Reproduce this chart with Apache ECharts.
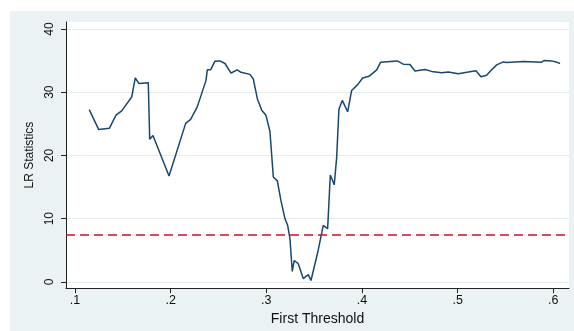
<!DOCTYPE html>
<html><head><meta charset="utf-8">
<script src="https://cdn.jsdelivr.net/npm/echarts@6/dist/echarts.min.js"></script>
<style>
html,body{margin:0;padding:0;background:#ffffff;}
#wrap{position:relative;width:574px;height:331px;overflow:hidden;}
#bg{position:absolute;left:10px;top:11px;width:564px;height:320px;background:#eaf2f3;}
#c{position:absolute;left:0;top:0;width:574px;height:331px;}
</style>
</head><body>
<div id="wrap"><div id="bg"></div><div id="c"></div></div>
<script>
const thresholds = [0.1149,0.1248,0.1359,0.1429,0.1488,0.1593,0.1630,0.1669,0.1766,0.1781,0.1815,0.1983,0.2157,0.2209,0.2278,0.2369,0.2383,0.2418,0.2463,0.2516,0.2568,0.2631,0.2696,0.2735,0.2829,0.2864,0.2906,0.2952,0.2996,0.3038,0.3073,0.3115,0.3153,0.3195,0.3223,0.3247,0.3271,0.3292,0.3334,0.3386,0.3439,0.3467,0.3543,0.3595,0.3641,0.3669,0.3710,0.3735,0.3759,0.3794,0.3850,0.3892,0.3955,0.4007,0.4073,0.4154,0.4195,0.4369,0.4432,0.4502,0.4554,0.4659,0.4728,0.4833,0.4902,0.5007,0.5111,0.5191,0.5244,0.5303,0.5345,0.5408,0.5477,0.5512,0.5686,0.5878,0.5902,0.5983,0.6028,0.6070];
const lrStats = [27.25,24.09,24.29,26.37,27.05,29.24,32.25,31.36,31.51,22.57,23.15,16.76,25.07,25.69,27.68,31.83,33.54,33.54,34.90,34.95,34.54,33.03,33.54,33.14,32.82,32.09,28.97,27.15,26.37,23.78,16.60,15.98,12.85,9.98,8.95,6.86,1.67,3.39,2.87,0.53,1.15,0.22,5.05,8.95,8.42,16.91,15.35,19.61,27.30,28.70,26.90,30.27,31.20,32.25,32.51,33.54,34.74,34.95,34.43,34.38,33.34,33.60,33.29,33.07,33.18,32.92,33.18,33.39,32.45,32.67,33.39,34.32,34.79,34.70,34.85,34.74,35.01,34.95,34.79,34.54];
const criticalValue = 7.4;
const xTicks = [0.1,0.2,0.3,0.4,0.5,0.6];
const yTicks = [0,10,20,30,40];

const points = thresholds.map((t,i)=>[t, lrStats[i]]);
const chart = echarts.init(document.getElementById('c'), null, {renderer:'canvas'});
const txt = '#111111';
chart.setOption({
  backgroundColor: 'transparent',
  animation: false,
  grid: {left:66, right:5, top:22, bottom:39, show:true, backgroundColor:'#ffffff', borderWidth:0},
  xAxis: {
    type:'value', min:0.0906, max:0.6164,
    axisLine:{show:true, onZero:false, lineStyle:{color:'#222222', width:1}},
    axisTick:{show:true, length:5, customValues:xTicks, lineStyle:{color:'#222222'}},
    axisLabel:{customValues:xTicks, formatter:v=>Number(v).toFixed(1).replace(/^0/,''), color:txt, fontSize:12.5, margin:6, fontFamily:'Liberation Sans'},
    splitLine:{show:false},
    name:'First Threshold', nameLocation:'middle', nameGap:18,
    nameTextStyle:{color:txt, fontSize:14, fontFamily:'Liberation Sans', verticalAlign:'top'}
  },
  yAxis: {
    type:'value', min:-0.98, max:41.1,
    axisLine:{show:true, onZero:false, lineStyle:{color:'#222222', width:1}},
    axisTick:{show:true, length:5, customValues:yTicks, lineStyle:{color:'#222222'}},
    axisLabel:{customValues:yTicks, rotate:90, color:txt, fontSize:12, margin:10, fontFamily:'Liberation Sans'},
    splitLine:{show:true, lineStyle:{color:'#e4ecee', width:1}},
    name:'LR Statistics', nameLocation:'middle', nameGap:27,
    nameTextStyle:{color:txt, fontSize:12, fontFamily:'Liberation Sans'}
  },
  series: [{
    type:'line', data:points, showSymbol:false, symbol:'none',
    lineStyle:{color:'#1a476f', width:1.5}, z:3,
    markLine:{silent:true, symbol:'none', label:{show:false},
      lineStyle:{color:'#c8102e', type:[9,5], width:1.5},
      data:[{yAxis:criticalValue}]}
  }]
});
</script>
</body></html>
